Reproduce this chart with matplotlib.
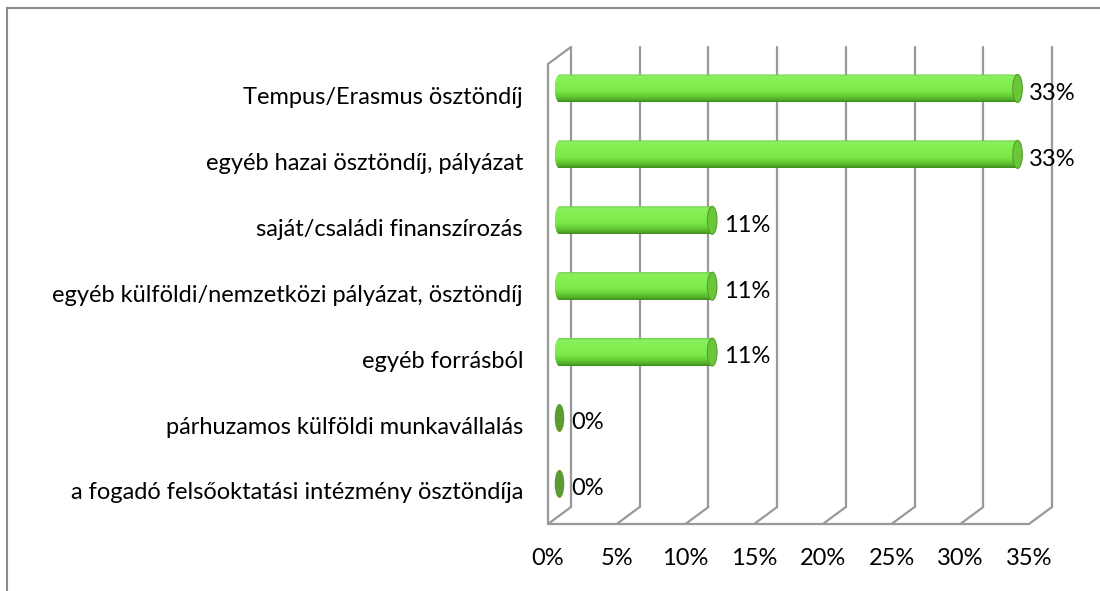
import numpy as np
import matplotlib
matplotlib.use("Agg")
import matplotlib.pyplot as plt
from matplotlib.colors import LinearSegmentedColormap
from matplotlib.lines import Line2D
from matplotlib.patches import Ellipse, PathPatch
from matplotlib.path import Path

# data
categories = [
    "Tempus/Erasmus ösztöndíj",
    "egyéb hazai ösztöndíj, pályázat",
    "saját/családi finanszírozás",
    "egyéb külföldi/nemzetközi pályázat, ösztöndíj",
    "egyéb forrásból",
    "párhuzamos külföldi munkavállalás",
    "a fogadó felsőoktatási intézmény ösztöndíja",
]
values = [33.33, 33.33, 11.11, 11.11, 11.11, 0.0, 0.0]
value_labels = ["33%", "33%", "11%", "11%", "11%", "0%", "0%"]
ticks = [0, 5, 10, 15, 20, 25, 30, 35]
tick_labels = ["0%", "5%", "10%", "15%", "20%", "25%", "30%", "35%"]

plt.rcParams['font.family'] = ['Lato', 'DejaVu Sans']
FS = 17

fig = plt.figure(figsize=(11, 5.91), dpi=100)
ax = fig.add_axes([0, 0, 1, 1])
ax.set_axis_off()

# pixel-ish frame: front 0% at x=548, 35% at x=1029, first category at y=97.5
xscale = 481 / 35.0
ystep = 65.9
xlim = (-548 / xscale, (1100 - 548) / xscale)
ylim = ((591 - 97.5) / ystep, -97.5 / ystep)

# 3D depth offset (data units)
ddx = 23 / xscale
ddy = -17 / ystep
floor_front = (524 - 97.5) / ystep
top_back = (47 - 97.5) / ystep
top_front = top_back - ddy
floor_back = floor_front + ddy

grid_kw = dict(color="#999999", lw=1.6, solid_capstyle="round", zorder=1)

# back wall gridlines
for t in ticks:
    ax.plot([t + ddx, t + ddx], [top_back, floor_back], **grid_kw)
    ax.plot([t, t + ddx], [floor_front, floor_back], **grid_kw)
ax.plot([ticks[0], ticks[-1]], [floor_front, floor_front], **grid_kw)
# left side wall
ax.plot([0, 0], [floor_front, top_front], **grid_kw)
ax.plot([0, ddx], [top_front, top_back], **grid_kw)

# cylinder shading
cyl = LinearSegmentedColormap.from_list("cyl", [
    (0.0, "#63c53a"), (0.06, "#8cee60"), (0.2, "#86f054"),
    (0.6, "#7ce848"), (0.78, "#66cf36"), (0.92, "#52ad28"), (1.0, "#3f8c1e")])
grad = np.linspace(0, 1, 64).reshape(-1, 1)

r = 14 / ystep
cap_rx = 4.8 / xscale
for i, (val, lab) in enumerate(zip(values, value_labels)):
    yc = i - 9 / ystep
    x0 = ddx / 2
    x1 = val + ddx / 2
    if val > 0:
        th = np.linspace(np.pi / 2, 3 * np.pi / 2, 40)
        arc = np.column_stack([x0 + cap_rx * np.cos(th), yc - r * np.sin(th)])
        verts = np.vstack([[x1, yc - r], arc, [x1, yc + r], [x1, yc - r]])
        codes = [Path.MOVETO] + [Path.LINETO] * (len(verts) - 2) + [Path.CLOSEPOLY]
        clip = PathPatch(Path(verts, codes), facecolor="none", edgecolor="none",
                         transform=ax.transData)
        ax.add_patch(clip)
        im = ax.imshow(grad, cmap=cyl, aspect="auto", origin="upper",
                       extent=(x0 - cap_rx, x1, yc + r, yc - r), zorder=3,
                       interpolation="bilinear")
        im.set_clip_path(clip)
        ax.add_patch(Ellipse((x1, yc), 2 * cap_rx, 2 * r, facecolor="#6cc63a",
                             edgecolor="#549f2c", lw=0.8, zorder=4))
    else:
        ax.add_patch(Ellipse((x1, yc), 2 * cap_rx, 2 * r, facecolor="#5b9b31",
                             edgecolor="none", zorder=4))
    ax.annotate(lab, (x1, yc), xytext=(cap_rx * xscale * 0.72 + 5, -3.5),
                textcoords="offset points", ha="left", va="center",
                fontsize=FS, color="#000000", zorder=5)

for i, cat in enumerate(categories):
    ax.annotate(cat, (0, i), xytext=(-18, 0), textcoords="offset points",
                ha="right", va="center", fontsize=FS, color="#000000")

for t, tl in zip(ticks, tick_labels):
    ax.annotate(tl, (t, floor_front), xytext=(0, -25),
                textcoords="offset points", ha="center", va="center",
                fontsize=FS, color="#000000")

ax.set_xlim(*xlim)
ax.set_ylim(*ylim)

# chart area border (top and left edges visible)
fig.add_artist(Line2D([7 / 1100, 1.0], [1 - 8 / 591, 1 - 8 / 591],
                      color="#8c8c8c", lw=1.5, transform=fig.transFigure))
fig.add_artist(Line2D([7 / 1100, 7 / 1100], [0, 1 - 8 / 591],
                      color="#8c8c8c", lw=1.5, transform=fig.transFigure))

fig.savefig("out.png", dpi=100)
